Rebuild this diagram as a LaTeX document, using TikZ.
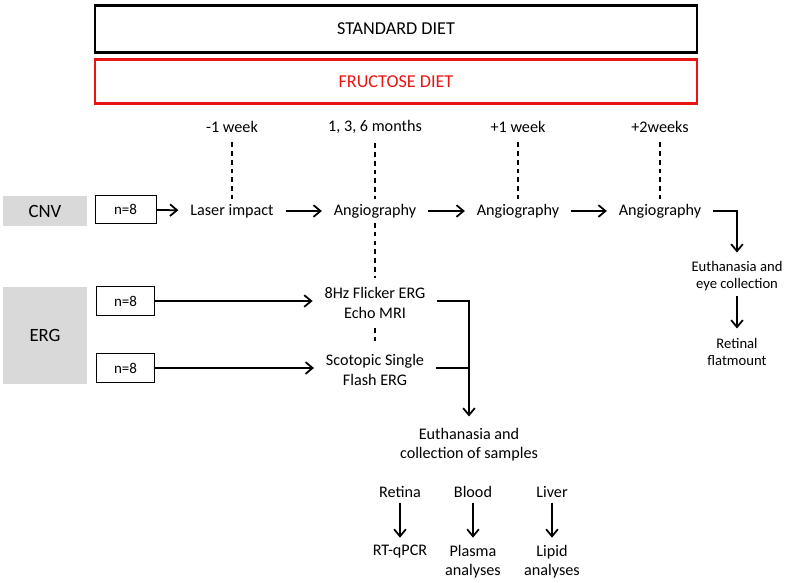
\documentclass[tikz,border=0pt]{standalone}
\usepackage{fontspec}
\setmainfont{Carlito}
\usetikzlibrary{arrows.meta}
\definecolor{boxgray}{RGB}{217,217,217}
\definecolor{dietred}{RGB}{232,20,20}
\tikzset{
  lbl/.style={font=\fontsize{13.8}{16.5}\selectfont,inner xsep=10pt,inner ysep=4pt,align=center},
  small/.style={lbl,font=\fontsize{12.5}{15}\selectfont},
  diet/.style={draw,line width=2.4pt,minimum width=18.06cm,font=\fontsize{15.5}{18}\selectfont},
  group/.style={fill=boxgray,minimum width=2.52cm,font=\fontsize{16}{19}\selectfont},
  nbox/.style={draw,line width=0.8pt,minimum width=1.75cm,minimum height=0.85cm,font=\fontsize{12.8}{15}\selectfont},
  flow/.style={line width=1.5pt,-{Straight Barb[length=6pt,width=10pt]}},
  plain/.style={line width=1.5pt},
  tick/.style={line width=0.9pt,dash pattern=on 4pt off 3.5pt}
}
\begin{document}
\begin{tikzpicture}[x=0.03cm,y=-0.03cm]
\useasboundingbox (0,0) rectangle (785,582);

% diets
\node[diet,minimum height=1.42cm] (std) at (396,29) {STANDARD DIET};
\node[diet,draw=dietred,text=dietred,line width=2pt,minimum height=1.33cm] (fru) at (396,81.5) {FRUCTOSE DIET};

% time points
\foreach \n/\x/\t in {a/232/-1 week,b/375/{1, 3, 6 months},c/518/+1 week,d/660/+2weeks}{ \node[lbl] (t\n) at (\x,127){\t};}

% CNV
\node[group,minimum height=0.9cm] (cnv) at (45,211) {CNV};
\node[nbox,minimum width=1.83cm] (n1) at (125.5,209.5) {n=8};
\node[lbl] (laser) at (232,211) {Laser impact};
\node[lbl] (angA) at (375,211) {Angiography};
\node[lbl] (angB) at (518,211) {Angiography};
\node[lbl] (angC) at (660,211) {Angiography};
\node[small] (euthA) at (737,276) {Euthanasia and\\eye collection};
\node[small] (flat) at (737,352) {Retinal\\flatmount};

\foreach \n/\m in {a/laser,b/angA,c/angB,d/angC}{ \draw[tick,shorten <=4pt] (t\n) -- (\m);}
\draw[flow] (n1) -- (laser);
\draw[flow] (laser) -- (angA);
\draw[flow] (angA) -- (angB);
\draw[flow] (angB) -- (angC);
\draw[flow,shorten >=3pt] (angC) -| (euthA);
\draw[flow,shorten >=4pt] (euthA) -- (flat);

% ERG
\node[group,minimum height=2.91cm] (erg) at (45,335.5) {ERG};
\node[nbox] (n2) at (125.5,301) {n=8};
\node[nbox] (n3) at (125.5,368) {n=8};
\node[lbl] (flick) at (375,303) {8Hz Flicker ERG\\Echo MRI};
\node[lbl] (scot) at (375,370) {Scotopic Single\\Flash ERG};
\node[lbl] (samp) at (469,445) {Euthanasia and\\collection of samples};

\draw[tick,shorten >=4pt] (angA) -- (flick);
\draw[tick,shorten <=4pt,shorten >=4pt] (flick) -- (scot);
\draw[flow] (n2.east) -- (n2.east -| flick.west);
\draw[flow] (n3.east) -- (n3.east -| scot.west);
\draw[flow,shorten >=6pt] (n2.east -| flick.east) -| (samp.north);
\draw[plain] (n3.east -| scot.east) -- (n3.east -| samp.north);

% samples
\foreach \n/\x/\a/\b in {ret/400/Retina/RT-qPCR,blo/473/Blood/{Plasma\\analyses},liv/552/Liver/{Lipid\\analyses}}{
  \node[lbl] (\n) at (\x,492){\a};
  \node[lbl,anchor=north] (\n res) at (\x,540){\b};
  \draw[flow,shorten >=2pt] (\n) -- (\n res);
}

\end{tikzpicture}
\end{document}
